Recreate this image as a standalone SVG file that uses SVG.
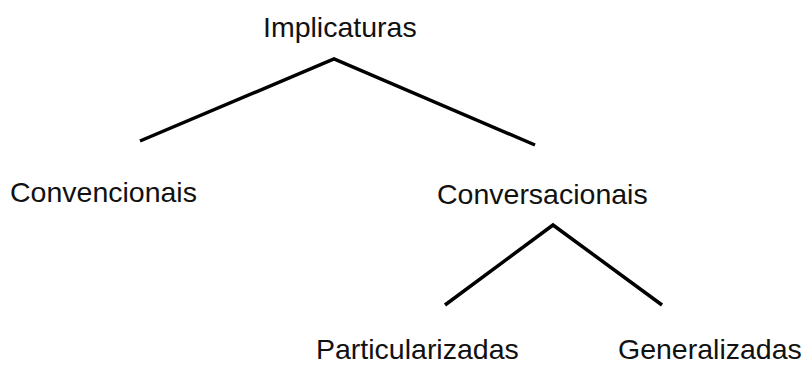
<svg xmlns="http://www.w3.org/2000/svg" width="805" height="365" viewBox="0 0 805 365">
<style>
text{font-family:"Liberation Sans",Arial,sans-serif;font-size:28.5px;fill:#111}
.c{stroke:#000;stroke-width:3.5;fill:none;stroke-linejoin:miter}
</style>
<rect width="805" height="365" fill="#fff"/>
<g id="connectors">
<polyline class="c" points="140,141 334,59 535,145"/>
<polyline class="c" points="445,305 553,225 662,305"/>
</g>
<g id="n-implicaturas"><text x="263" y="37">Implicaturas</text></g>
<g id="n-convencionais"><text x="10" y="202">Convencionais</text></g>
<g id="n-conversacionais"><text x="437" y="204">Conversacionais</text></g>
<g id="n-particularizadas"><text x="316" y="359">Particularizadas</text></g>
<g id="n-generalizadas"><text x="618" y="359">Generalizadas</text></g>
</svg>
